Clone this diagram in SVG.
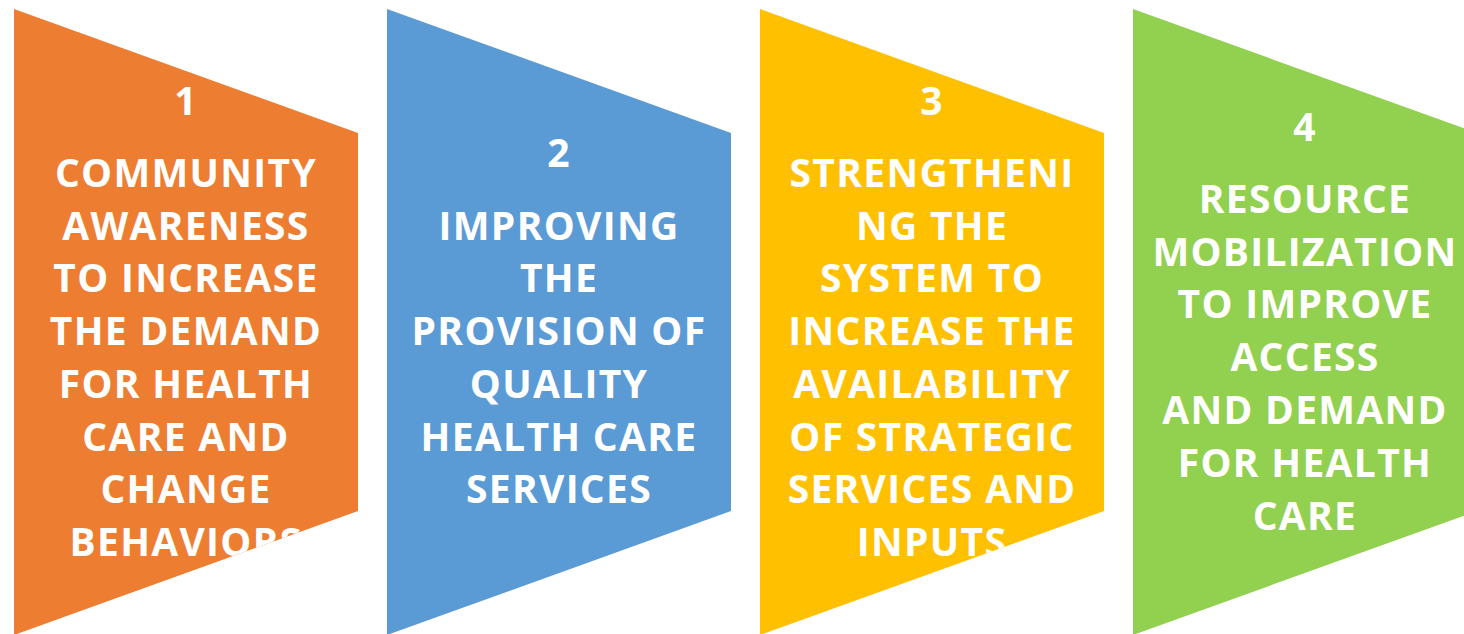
<svg xmlns="http://www.w3.org/2000/svg" width="1464" height="634" viewBox="0 0 1464 634">
<defs>
<clipPath id="c1"><polygon points="14,9 358,133 358,511 14,635"/></clipPath>
<clipPath id="c2"><polygon points="387,9 731,133 731,511 387,635"/></clipPath>
<clipPath id="c3"><polygon points="760,9 1104,133 1104,511 760,635"/></clipPath>
<clipPath id="c4"><polygon points="1133,9 1477,133 1477,511 1133,635"/></clipPath>
</defs>
<style>
text{font-family:"Open Sans","Liberation Sans",sans-serif;font-weight:700;font-size:39px;fill:#ffffff;text-anchor:middle;letter-spacing:1.3px}
</style>
<rect width="1464" height="634" fill="#ffffff"/>
<g id="node1">
<polygon points="14,9 358,133 358,511 14,635" fill="#ED7D31"/>
<g clip-path="url(#c1)">
<text x="186" y="115">1</text>
<text x="186" y="187">COMMUNITY</text>
<text x="186" y="240">AWARENESS</text>
<text x="186" y="292">TO INCREASE</text>
<text x="186" y="345">THE DEMAND</text>
<text x="186" y="398">FOR HEALTH</text>
<text x="186" y="451">CARE AND</text>
<text x="186" y="503">CHANGE</text>
<text x="186" y="556">BEHAVIORS</text>
</g>
</g>
<g id="node2">
<polygon points="387,9 731,133 731,511 387,635" fill="#5B9BD5"/>
<g clip-path="url(#c2)">
<text x="559" y="167">2</text>
<text x="559" y="240">IMPROVING</text>
<text x="559" y="292">THE</text>
<text x="559" y="345">PROVISION OF</text>
<text x="559" y="398">QUALITY</text>
<text x="559" y="451">HEALTH CARE</text>
<text x="559" y="503">SERVICES</text>
</g>
</g>
<g id="node3">
<polygon points="760,9 1104,133 1104,511 760,635" fill="#FFC000"/>
<g clip-path="url(#c3)">
<text x="932" y="115">3</text>
<text x="932" y="187">STRENGTHENI</text>
<text x="932" y="240">NG THE</text>
<text x="932" y="292">SYSTEM TO</text>
<text x="932" y="345">INCREASE THE</text>
<text x="932" y="398">AVAILABILITY</text>
<text x="932" y="451">OF STRATEGIC</text>
<text x="932" y="503">SERVICES AND</text>
<text x="932" y="556">INPUTS</text>
</g>
</g>
<g id="node4">
<polygon points="1133,9 1477,133 1477,511 1133,635" fill="#92D050"/>
<g clip-path="url(#c4)">
<text x="1305" y="141">4</text>
<text x="1305" y="213">RESOURCE</text>
<text x="1305" y="266">MOBILIZATION</text>
<text x="1305" y="318">TO IMPROVE</text>
<text x="1305" y="371">ACCESS</text>
<text x="1305" y="424">AND DEMAND</text>
<text x="1305" y="477">FOR HEALTH</text>
<text x="1305" y="530">CARE</text>
</g>
</g>
<g id="connectors"/>
</svg>
